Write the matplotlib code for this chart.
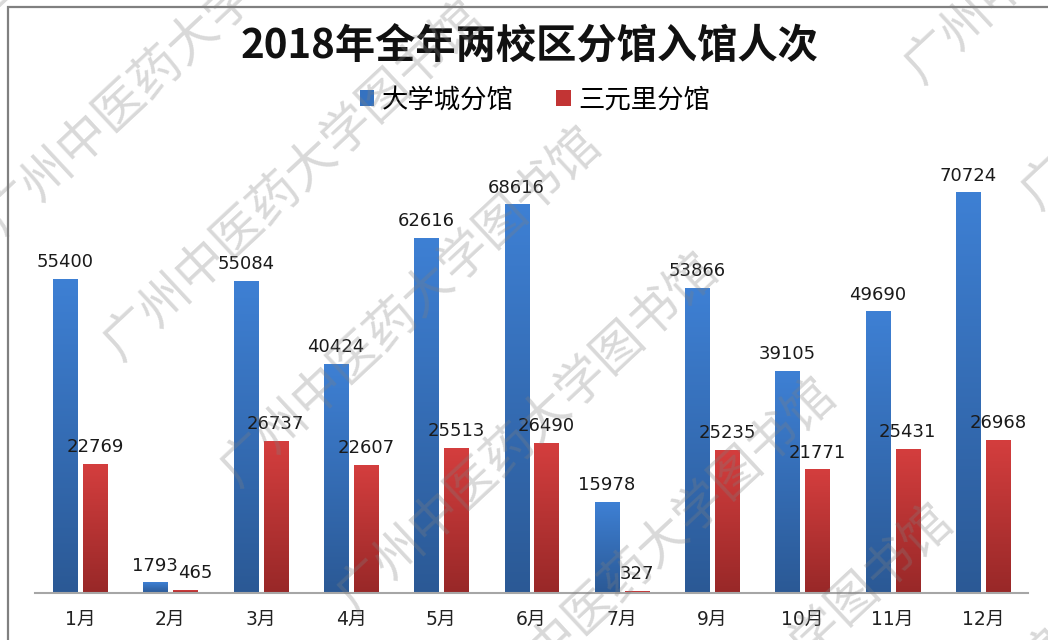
import numpy as np
import matplotlib
matplotlib.use('Agg')
import matplotlib.pyplot as plt
from matplotlib.colors import LinearSegmentedColormap
from matplotlib.patches import Patch, Rectangle

plt.rcParams['font.family'] = ['DejaVu Sans', 'Noto Sans CJK SC']

months = ['1月', '2月', '3月', '4月', '5月', '6月', '7月', '9月', '10月', '11月', '12月']
daxuecheng = [55400, 1793, 55084, 40424, 62616, 68616, 15978, 53866, 39105, 49690, 70724]
sanyuanli = [22769, 465, 26737, 22607, 25513, 26490, 327, 25235, 21771, 25431, 26968]
series_names = ['大学城分馆', '三元里分馆']
title = '2018年全年两校区分馆入馆人次'
watermark = '广州中医药大学图书馆'

W, H = 1048, 640
fig = plt.figure(figsize=(W / 100, H / 100), dpi=100)
ax = fig.add_axes([35 / W, 1 - 593 / H, 993 / W, 452.5 / H])

blue_cmap = LinearSegmentedColormap.from_list('b', ['#2b5995', '#3e80d4'])
red_cmap = LinearSegmentedColormap.from_list('r', ['#982828', '#d43e3e'])

x = np.arange(len(months))
bw = 0.266
off = 0.166
grad = np.linspace(0, 1, 256).reshape(-1, 1)

for k, (vals, dx, cmap) in enumerate([(daxuecheng, -off, blue_cmap), (sanyuanli, off, red_cmap)]):
    bars = ax.bar(x + dx, vals, bw, color='none', edgecolor='none')
    for n, (b, v) in enumerate(zip(bars, vals)):
        x0, w, h = b.get_x(), b.get_width(), b.get_height()
        ax.imshow(grad, extent=[x0, x0 + w, 0, h], origin='lower', aspect='auto',
                  cmap=cmap, zorder=2)
        # nudge the second label right when both bars are tiny (labels would collide)
        shift = 7 if (k == 1 and abs(daxuecheng[n] - v) < 4000) else 0
        ax.annotate(str(v), (x0 + w / 2, h), xytext=(shift, 6), textcoords='offset points',
                    ha='center', va='bottom', fontsize=13, color='#1a1a1a',
                    family='DejaVu Sans', zorder=4)

ax.set_xlim(-0.5, len(months) - 0.5)
ax.set_ylim(0, 80000)
ax.set_xticks(x)
ax.set_xticklabels(months, fontsize=13.5, color='#222222')
ax.set_yticks([])
ax.tick_params(axis='x', length=0, pad=12)
for s in ['top', 'left', 'right']:
    ax.spines[s].set_visible(False)
ax.spines['bottom'].set_color('#a6a6a6')
ax.spines['bottom'].set_linewidth(1.5)

# outer chart border (only top/left visible)
fig.patches.append(Rectangle((8 / W, -0.1), 1.2, 1 - 7 / H + 0.1, transform=fig.transFigure,
                             fill=False, edgecolor='#808080', linewidth=1.6))

fig.text(530 / W, 1 - 47 / H, title, ha='center', va='center', fontsize=29,
         fontweight='bold', family='Noto Sans CJK SC', color='#111111')

handles = [Patch(facecolor='#3572c0', label=series_names[0]),
           Patch(facecolor='#c23434', label=series_names[1])]
fig.legend(handles=handles, loc='center', bbox_to_anchor=(535 / W, 1 - 100 / H), ncol=2,
           frameon=False, handlelength=0.55, handleheight=0.55, handletextpad=0.3,
           columnspacing=1.6, prop={'family': 'Noto Sans CJK SC', 'size': 19})

# watermark lattice
ang = 43
u = np.array([np.cos(np.radians(ang)), -np.sin(np.radians(ang))])
v = np.array([np.sin(np.radians(ang)), np.cos(np.radians(ang))])
origin = np.array([363.0, 586.0])
for i in range(-1, 3):
    for j in range(-5, 5):
        p = origin + i * 775 * u + j * 172 * v - 25 * u
        fig.text(p[0] / W, 1 - p[1] / H, watermark, rotation=ang, rotation_mode='anchor',
                 ha='left', va='center', fontsize=36, family='Noto Sans CJK SC',
                 color='#808080', alpha=0.3, zorder=10)

fig.savefig('out.png', dpi=100)
